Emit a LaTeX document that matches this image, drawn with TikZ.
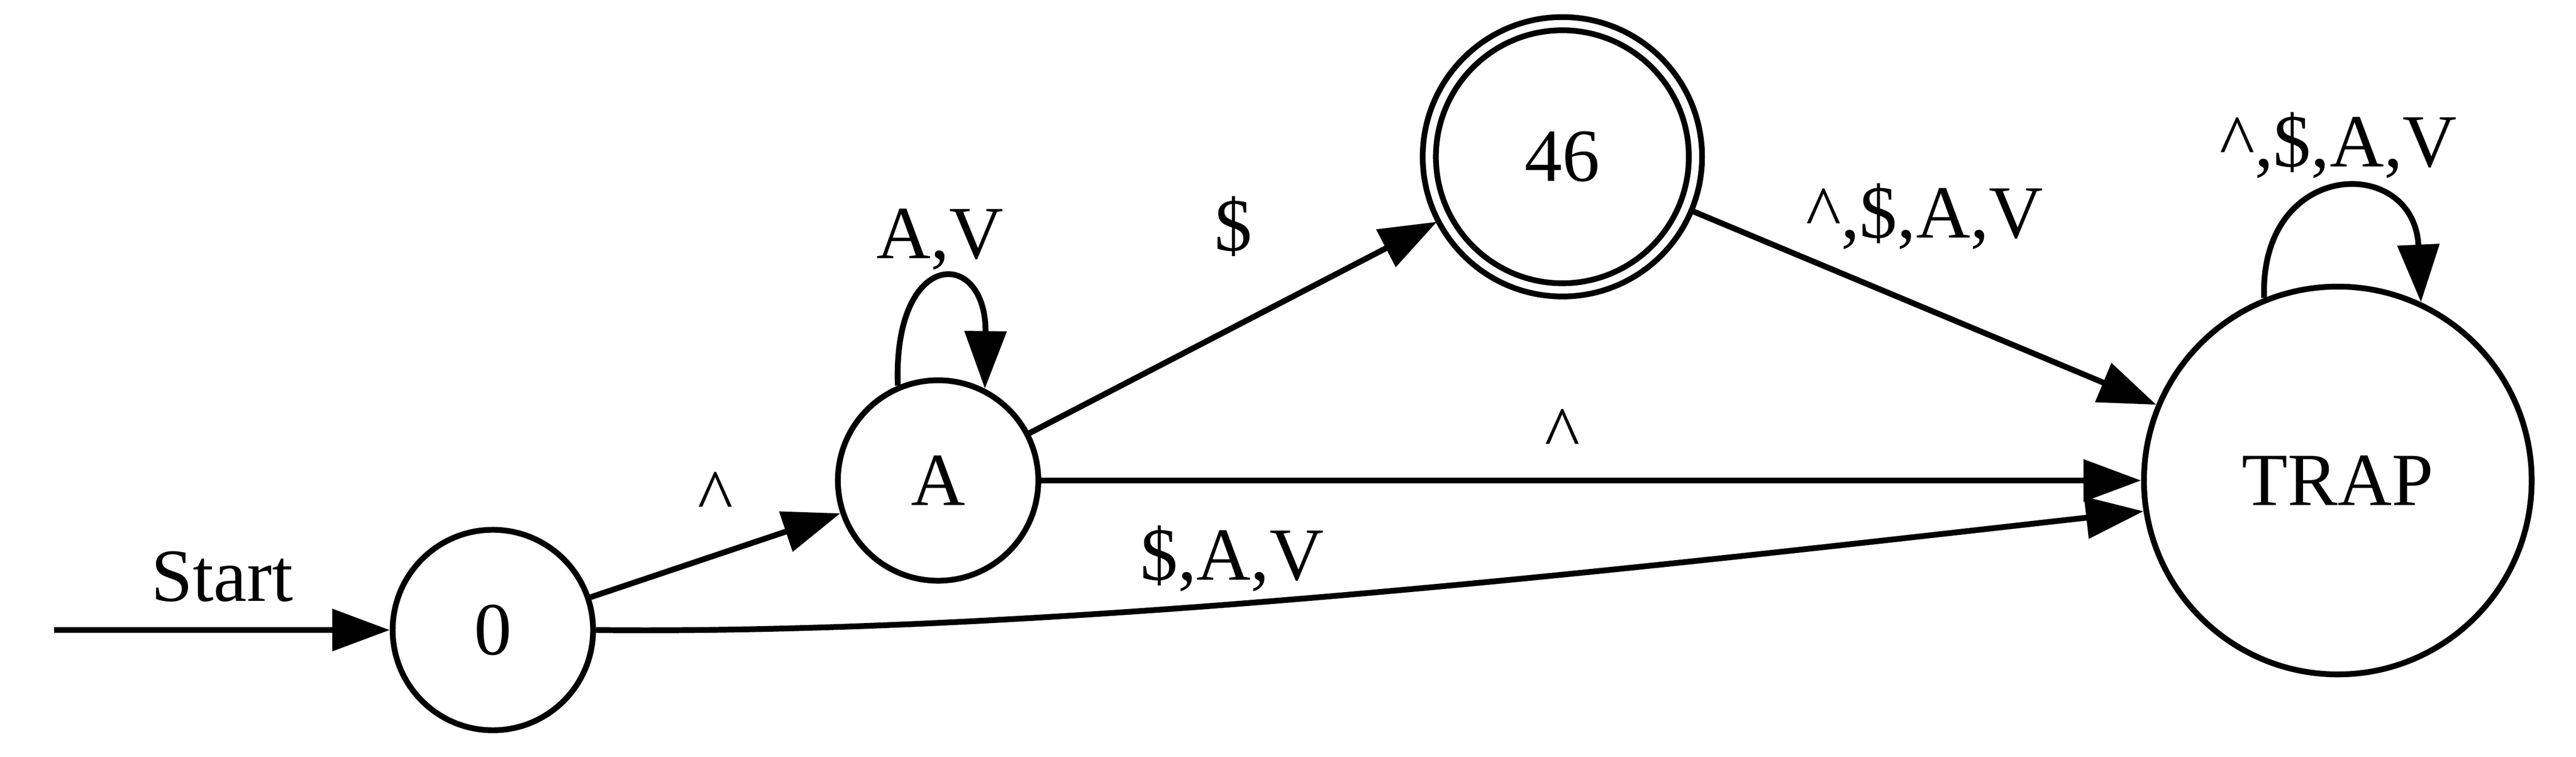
\documentclass[tikz,border=0pt]{standalone}
\usepackage{fontspec}
\setmainfont{Liberation Serif}
\usetikzlibrary{arrows.meta,positioning}

\begin{document}
\begin{tikzpicture}[font=\fontsize{13pt}{15pt}\selectfont, line width=1pt,
 >={Triangle[length=3.5mm,width=2.5mm]},
 dfa state/.style={circle,draw,inner sep=0pt,minimum size=#1},
 lbl/.style={inner sep=0pt,text height=0.68em,text depth=0.2em}]
\useasboundingbox (0,0) rectangle (15.68,4.604);
\coordinate (start) at (0.33,0.77);
\node [dfa state=1.22cm] (q0) at (3.00,0.77) {0};
\node [dfa state=1.22cm] (qA) at (5.71,1.68) {A};
\node [dfa state=1.62cm,double,double distance=0.45mm,outer sep=0.5mm] (q46) at (9.51,3.65) {46};
\node [dfa state=2.36cm] (trap) at (14.23,1.68) {TRAP};
\draw [->] (start) -- node[lbl,midway,yshift=2.6mm]{Start} (q0);
\draw [->] (q0) -- node[lbl,midway,yshift=2.9mm]{\textasciicircum} (qA);
\draw [->] (qA.113) .. controls +(-0.03,0.84) and +(0.01,0.86) .. node[lbl,midway,yshift=2.3mm]{A,V} (qA.63);
\draw [->] (qA) -- node[lbl,midway,yshift=5.5mm]{\$} (q46);
\draw [->] (qA) -- node[lbl,pos=0.474,yshift=2.2mm]{\textasciicircum} (trap);
\draw [->] (q0.east) .. controls (6.5,0.74) and (10.0,1.15) .. node[lbl,pos=0.42,yshift=2.3mm]{\$,A,V} (trap.189);
\draw [->] (q46) -- node[lbl,midway,yshift=5.1mm]{\textasciicircum,\$,A,V} (trap);
\draw [->] (trap.112) .. controls +(-0.03,0.85) and +(-0.04,0.9) .. node[lbl,midway,yshift=2.4mm]{\textasciicircum,\$,A,V} (trap.65);
\end{tikzpicture}
\end{document}
